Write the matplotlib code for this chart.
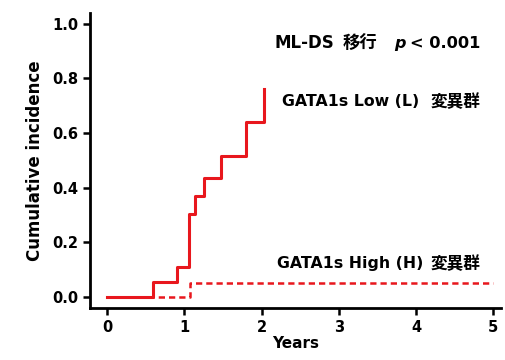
import numpy as np
import matplotlib
matplotlib.use("Agg")
import matplotlib.pyplot as plt

plt.rcParams['font.family'] = ['DejaVu Sans', 'Noto Sans CJK JP']

# GATA1s Low (L) group: step times (years) and cumulative incidence
low_times = [0, 0.59, 0.90, 1.06, 1.14, 1.25, 1.48, 1.80, 2.03]
low_values = [0, 0.055, 0.11, 0.305, 0.37, 0.436, 0.516, 0.64, 0.76]

# GATA1s High (H) group
high_times = [0, 1.08, 5.0]
high_values = [0, 0.05, 0.05]

x_ticks = [0, 1, 2, 3, 4, 5]
y_ticks = [0.0, 0.2, 0.4, 0.6, 0.8, 1.0]

red = "#e8171d"
jp = ['Noto Sans CJK JP', 'DejaVu Sans']


def main():
    fig = plt.figure(figsize=(5.06, 3.6), dpi=100)
    ax = fig.add_axes([0.178, 0.145, 0.812, 0.82])

    ax.step(high_times, high_values, where="post", color=red, lw=1.8,
            ls=(0, (2.5, 1.6)))
    ax.step(low_times, low_values, where="post", color=red, lw=2.2)

    ax.set_xlim(-0.22, 5.1)
    ax.set_ylim(-0.04, 1.04)
    ax.set_xticks(x_ticks)
    ax.set_yticks(y_ticks)
    ax.set_yticklabels([f"{v:.1f}" for v in y_ticks])

    for side in ("top", "right"):
        ax.spines[side].set_visible(False)
    for side in ("left", "bottom"):
        ax.spines[side].set_linewidth(2)
    ax.tick_params(width=1.8, length=5, labelsize=10.5, direction="out")
    for lab in ax.get_xticklabels() + ax.get_yticklabels():
        lab.set_fontweight("bold")

    ax.set_xlabel("Years", fontsize=11, fontweight="bold", labelpad=1)
    ax.set_ylabel("Cumulative incidence", fontsize=12, fontweight="bold",
                  labelpad=6)

    # annotation pieces (latin in DejaVu, japanese in Noto CJK, italic p)
    kw = dict(fontweight="bold", ha="left", va="baseline")
    ax.text(2.163, 0.912, "ML-DS", fontsize=12, **kw)
    ax.text(3.044, 0.906, "移行", fontsize=12.5, family=jp, **kw)
    ax.text(3.72, 0.912, "p", fontsize=11.5, fontstyle="italic", **kw)
    ax.text(3.925, 0.912, "< 0.001", fontsize=11.7, **kw)

    ax.text(2.267, 0.70, "GATA1s Low (L)", fontsize=11.3, **kw)
    ax.text(4.184, 0.694, "変異群", fontsize=12, family=jp, **kw)
    ax.text(2.202, 0.106, "GATA1s High (H)", fontsize=11.3, **kw)
    ax.text(4.184, 0.100, "変異群", fontsize=12, family=jp, **kw)

    fig.savefig("out.png", dpi=100)
    plt.close(fig)


if __name__ == "__main__":
    main()
